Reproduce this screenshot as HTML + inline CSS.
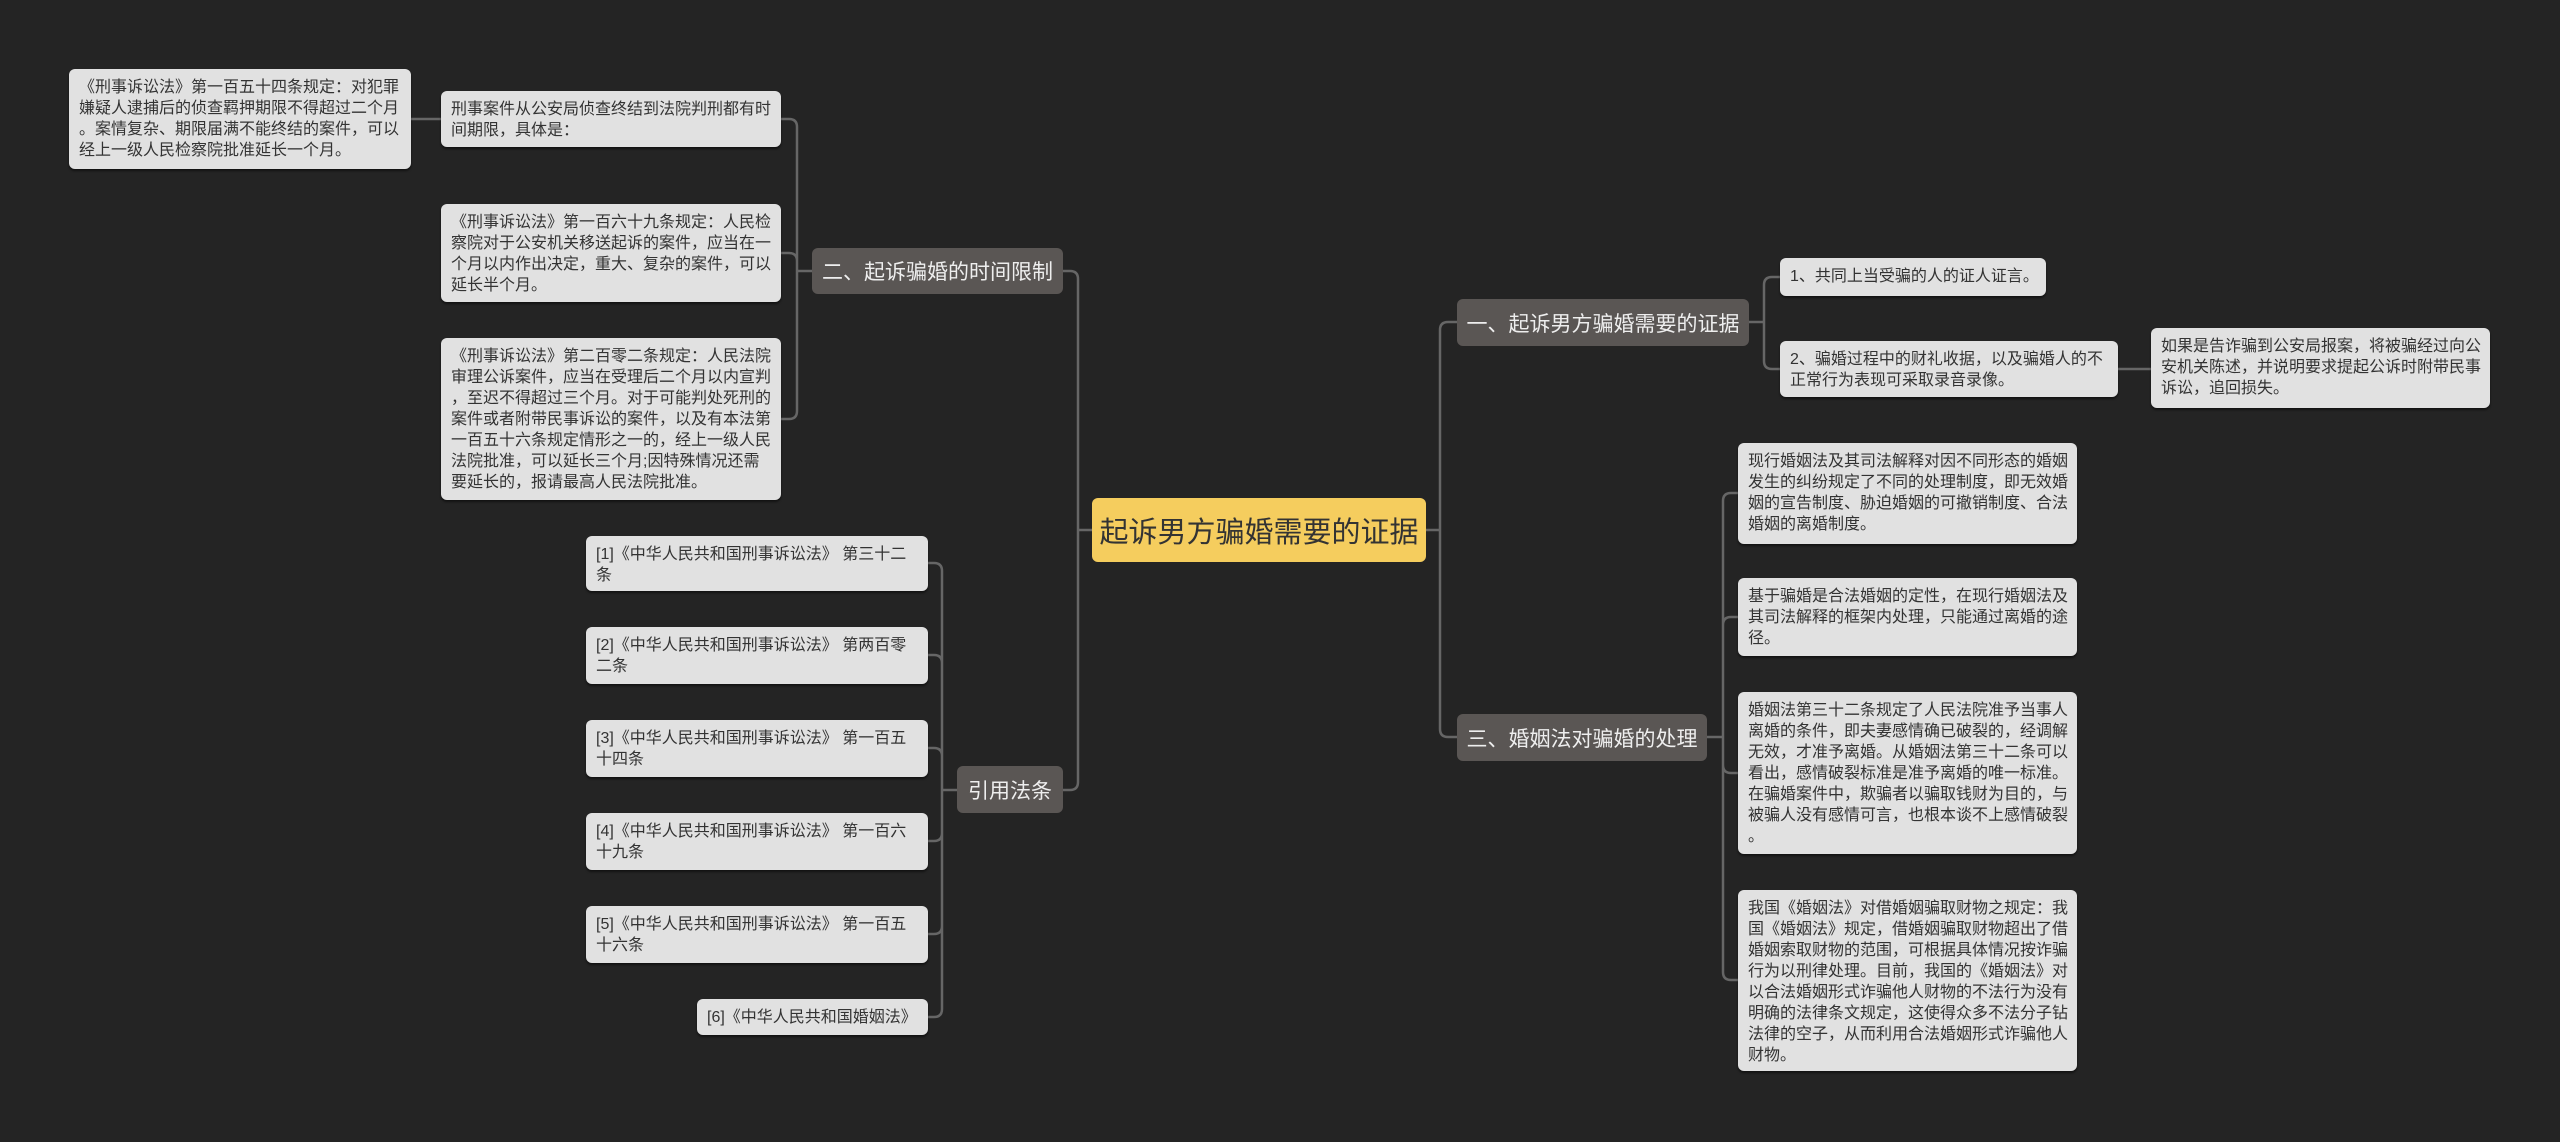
<!DOCTYPE html>
<html><head><meta charset="utf-8">
<style>
html,body{margin:0;padding:0;}
body{width:2560px;height:1142px;background:#242424;position:relative;overflow:hidden;font-family:"Liberation Sans","Noto Sans CJK SC",sans-serif;}
.n{position:absolute;box-sizing:border-box;border-radius:6px;}
.leaf{background:#e1e1e1;color:#333;font-size:16px;line-height:21px;padding:8px 10px;white-space:nowrap;box-shadow:0 2px 2px rgba(0,0,0,.5);}
.br{background:#5a5654;color:#eee;font-size:21px;display:flex;align-items:center;justify-content:center;white-space:nowrap;}
.root{background:#f5cd5e;color:#333;font-size:29px;display:flex;align-items:center;justify-content:center;white-space:nowrap;}
svg{position:absolute;left:0;top:0;}
</style></head><body>
<svg id="s" width="2560" height="1142"></svg>

<div class="n root" style="left:1092px;top:498px;width:334px;height:64px;">起诉男方骗婚需要的证据</div>

<div class="n br" style="left:812px;top:248px;width:251px;height:46px;">二、起诉骗婚的时间限制</div>
<div class="n br" style="left:957px;top:766px;width:106px;height:47px;">引用法条</div>
<div class="n br" style="left:1457px;top:299px;width:292px;height:47px;">一、起诉男方骗婚需要的证据</div>
<div class="n br" style="left:1457px;top:714px;width:250px;height:47px;">三、婚姻法对骗婚的处理</div>

<div class="n leaf" style="left:69px;top:69px;width:342px;height:100px;">《刑事诉讼法》第一百五十四条规定：对犯罪<br>嫌疑人逮捕后的侦查羁押期限不得超过二个月<br>。案情复杂、期限届满不能终结的案件，可以<br>经上一级人民检察院批准延长一个月。</div>
<div class="n leaf" style="left:441px;top:91px;width:340px;height:56px;">刑事案件从公安局侦查终结到法院判刑都有时<br>间期限，具体是：</div>
<div class="n leaf" style="left:441px;top:204px;width:340px;height:98px;">《刑事诉讼法》第一百六十九条规定：人民检<br>察院对于公安机关移送起诉的案件，应当在一<br>个月以内作出决定，重大、复杂的案件，可以<br>延长半个月。</div>
<div class="n leaf" style="left:441px;top:338px;width:340px;height:162px;">《刑事诉讼法》第二百零二条规定：人民法院<br>审理公诉案件，应当在受理后二个月以内宣判<br>，至迟不得超过三个月。对于可能判处死刑的<br>案件或者附带民事诉讼的案件，以及有本法第<br>一百五十六条规定情形之一的，经上一级人民<br>法院批准，可以延长三个月;因特殊情况还需<br>要延长的，报请最高人民法院批准。</div>

<div class="n leaf" style="left:586px;top:536px;width:342px;height:55px;">[1]《中华人民共和国刑事诉讼法》 第三十二<br>条</div>
<div class="n leaf" style="left:586px;top:627px;width:342px;height:57px;">[2]《中华人民共和国刑事诉讼法》 第两百零<br>二条</div>
<div class="n leaf" style="left:586px;top:720px;width:342px;height:57px;">[3]《中华人民共和国刑事诉讼法》 第一百五<br>十四条</div>
<div class="n leaf" style="left:586px;top:813px;width:342px;height:57px;">[4]《中华人民共和国刑事诉讼法》 第一百六<br>十九条</div>
<div class="n leaf" style="left:586px;top:906px;width:342px;height:57px;">[5]《中华人民共和国刑事诉讼法》 第一百五<br>十六条</div>
<div class="n leaf" style="left:697px;top:999px;width:231px;height:36px;">[6]《中华人民共和国婚姻法》</div>

<div class="n leaf" style="left:1780px;top:258px;width:266px;height:38px;">1、共同上当受骗的人的证人证言。</div>
<div class="n leaf" style="left:1780px;top:341px;width:338px;height:56px;">2、骗婚过程中的财礼收据，以及骗婚人的不<br>正常行为表现可采取录音录像。</div>
<div class="n leaf" style="left:2151px;top:328px;width:339px;height:80px;">如果是告诈骗到公安局报案，将被骗经过向公<br>安机关陈述，并说明要求提起公诉时附带民事<br>诉讼，追回损失。</div>

<div class="n leaf" style="left:1738px;top:443px;width:339px;height:101px;">现行婚姻法及其司法解释对因不同形态的婚姻<br>发生的纠纷规定了不同的处理制度，即无效婚<br>姻的宣告制度、胁迫婚姻的可撤销制度、合法<br>婚姻的离婚制度。</div>
<div class="n leaf" style="left:1738px;top:578px;width:339px;height:78px;">基于骗婚是合法婚姻的定性，在现行婚姻法及<br>其司法解释的框架内处理，只能通过离婚的途<br>径。</div>
<div class="n leaf" style="left:1738px;top:692px;width:339px;height:162px;">婚姻法第三十二条规定了人民法院准予当事人<br>离婚的条件，即夫妻感情确已破裂的，经调解<br>无效，才准予离婚。从婚姻法第三十二条可以<br>看出，感情破裂标准是准予离婚的唯一标准。<br>在骗婚案件中，欺骗者以骗取钱财为目的，与<br>被骗人没有感情可言，也根本谈不上感情破裂<br>。</div>
<div class="n leaf" style="left:1738px;top:890px;width:339px;height:181px;">我国《婚姻法》对借婚姻骗取财物之规定：我<br>国《婚姻法》规定，借婚姻骗取财物超出了借<br>婚姻索取财物的范围，可根据具体情况按诈骗<br>行为以刑律处理。目前，我国的《婚姻法》对<br>以合法婚姻形式诈骗他人财物的不法行为没有<br>明确的法律条文规定，这使得众多不法分子钻<br>法律的空子，从而利用合法婚姻形式诈骗他人<br>财物。</div>

<script>
var s=document.getElementById('s'),d='';
function g(px,py,sx,cx,cys){
  var dir=cx<sx?-1:1,r=8;
  cys.forEach(function(cy){
    var p='M'+px+','+py+' H'+sx;
    if(Math.abs(cy-py)<r){p+=' V'+cy+' H'+cx;}
    else{var sg=cy>py?1:-1;p+=' V'+(cy-sg*r)+' Q'+sx+','+cy+' '+(sx+dir*r)+','+cy+' H'+cx;}
    d+=p+' ';
  });
}
g(1092,530,1078,1063,[271,790]);
g(1426,530,1440,1457,[322,737]);
g(812,271,797,781,[119,253,419]);
g(957,790,942,928,[563,655,748,841,934,1017]);
g(1749,322,1764,1780,[277,369]);
g(1707,737,1723,1738,[493,617,773,980]);
d+='M441,119 H411 M2118,369 H2151';
s.innerHTML='<path d="'+d+'" fill="none" stroke="#666" stroke-width="2.5"/>';
</script>
</body></html>
